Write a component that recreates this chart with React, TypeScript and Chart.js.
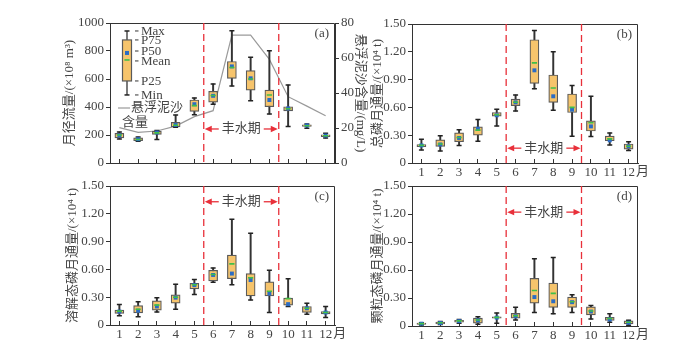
import React, { useEffect, useRef } from 'react';
import { Chart, registerables } from 'chart.js';

Chart.register(...registerables);

// ---------- data ----------
const months = ['1', '2', '3', '4', '5', '6', '7', '8', '9', '10', '11', '12'];

// (a) monthly runoff, 10^8 m3
const runoffMin = [172, 155, 168, 255, 345, 420, 550, 445, 350, 260, 248, 178];
const runoffP25 = [180, 160, 205, 258, 368, 435, 605, 520, 402, 372, 262, 188];
const runoffMedian = [197, 170, 218, 272, 420, 480, 690, 605, 450, 390, 268, 196];
const runoffMean = [200, 168, 215, 270, 410, 482, 682, 600, 486, 388, 266, 195];
const runoffP75 = [212, 180, 228, 290, 450, 512, 725, 660, 521, 402, 272, 202];
const runoffMax = [222, 185, 232, 343, 465, 565, 945, 755, 802, 557, 278, 212];
// suspended sediment, mg/L (right axis)
const sediment = [20.2, 17.5, 18.3, 21.1, 26.5, 29.9, 73.1, 73.1, 59.2, 37.9, 32.5, 27];

// (b) total phosphorus flux, 10^4 t
const tpMin = [0.14, 0.13, 0.19, 0.235, 0.40, 0.56, 0.80, 0.57, 0.29, 0.285, 0.195, 0.135];
const tpP25 = [0.175, 0.18, 0.23, 0.30, 0.505, 0.62, 0.86, 0.655, 0.545, 0.345, 0.24, 0.15];
const tpMedian = [0.19, 0.20, 0.27, 0.37, 0.515, 0.655, 1.00, 0.72, 0.575, 0.395, 0.245, 0.18];
const tpMean = [0.19, 0.205, 0.275, 0.355, 0.52, 0.655, 1.08, 0.81, 0.60, 0.435, 0.26, 0.18];
const tpP75 = [0.20, 0.25, 0.325, 0.39, 0.545, 0.69, 1.33, 0.95, 0.745, 0.455, 0.29, 0.205];
const tpMax = [0.255, 0.295, 0.36, 0.47, 0.58, 0.735, 1.43, 1.20, 0.835, 0.72, 0.325, 0.23];

// (c) dissolved phosphorus flux
const dpMin = [0.10, 0.09, 0.14, 0.17, 0.33, 0.46, 0.435, 0.27, 0.135, 0.20, 0.115, 0.08];
const dpP25 = [0.125, 0.13, 0.16, 0.235, 0.39, 0.475, 0.50, 0.315, 0.315, 0.215, 0.135, 0.12];
const dpMedian = [0.145, 0.155, 0.20, 0.295, 0.43, 0.54, 0.555, 0.485, 0.34, 0.225, 0.18, 0.135];
const dpMean = [0.15, 0.17, 0.215, 0.30, 0.435, 0.545, 0.66, 0.51, 0.365, 0.285, 0.18, 0.135];
const dpP75 = [0.16, 0.21, 0.26, 0.325, 0.45, 0.59, 0.755, 0.555, 0.465, 0.29, 0.20, 0.145];
const dpMax = [0.22, 0.25, 0.295, 0.44, 0.49, 0.615, 1.14, 0.99, 0.59, 0.50, 0.235, 0.20];

// (d) particulate phosphorus flux
const ppMin = [0.012, 0.015, 0.03, 0.02, 0.03, 0.065, 0.145, 0.13, 0.145, 0.075, 0.04, 0.008];
const ppP25 = [0.018, 0.022, 0.042, 0.03, 0.085, 0.085, 0.245, 0.20, 0.20, 0.12, 0.06, 0.022];
const ppMedian = [0.025, 0.032, 0.052, 0.06, 0.09, 0.105, 0.31, 0.265, 0.255, 0.155, 0.07, 0.035];
const ppMean = [0.025, 0.035, 0.055, 0.065, 0.092, 0.11, 0.38, 0.35, 0.26, 0.16, 0.08, 0.04];
const ppP75 = [0.032, 0.042, 0.062, 0.085, 0.097, 0.135, 0.51, 0.46, 0.31, 0.205, 0.092, 0.055];
const ppMax = [0.036, 0.048, 0.07, 0.10, 0.14, 0.20, 0.72, 0.735, 0.335, 0.22, 0.13, 0.062];

// tick labels
const runoffTicks = [0, 200, 400, 600, 800, 1000];
const sedimentTicks = [0, 10, 20, 30, 40, 50, 60, 70, 80];
const fluxTicks = [0, 0.3, 0.6, 0.9, 1.2, 1.5];

// flood season boundaries (between month 5/6 and 9/10, as category index)
const floodStart = 4.5;
const floodEnd = 8.5;
const floodText = '丰水期';

// legend sample box (panel a, in runoff units)
const legendSampleMin = 486;
const legendSampleP25 = 586;
const legendSampleMedian = 786;
const legendSampleMean = 736;
const legendSampleP75 = 879;
const legendSampleMax = 943;
const legendLabels = ['Max', 'P75', 'P50', 'Mean', 'P25', 'Min'];
const legendLabelValues = [943, 879, 800, 729, 586, 486];

// ---------- style ----------
const FONT = "'Liberation Serif', 'Noto Sans CJK SC', serif";
const TEXT = '#444';
const AXIS = '#333';
const BOX_FILL = '#F6C46C';
const BOX_EDGE = '#5a5a5a';
const WHISKER = '#333';
const BLUE = '#2B6CC4';
const GREEN = '#3FBF4A';
const RED = '#E8303A';

function boxDatasets(mn: number[], p25: number[], med: number[], mean: number[], p75: number[], mx: number[]) {
  return [
    {
      type: 'bar', data: mn.map((v, i) => [v, mx[i]]), backgroundColor: WHISKER,
      borderWidth: 0, barThickness: 1.3, grouped: false, order: 6,
    },
    {
      type: 'bar', data: p25.map((v, i) => [v, p75[i]]), backgroundColor: BOX_FILL,
      borderColor: BOX_EDGE, borderWidth: 1.2, borderSkipped: false, barThickness: 9, grouped: false, order: 5,
    },
    {
      type: 'line', data: mn, showLine: false, pointStyle: 'line', pointRadius: 2.5,
      pointBorderColor: '#222', pointBackgroundColor: '#222', pointBorderWidth: 1.5, order: 4,
    },
    {
      type: 'line', data: mx, showLine: false, pointStyle: 'line', pointRadius: 2.5,
      pointBorderColor: '#222', pointBackgroundColor: '#222', pointBorderWidth: 1.5, order: 4,
    },
    {
      type: 'line', data: med, showLine: false, pointStyle: 'rect', pointRadius: 2.8,
      pointBackgroundColor: BLUE, pointBorderColor: BLUE, pointBorderWidth: 0, order: 3,
    },
    {
      type: 'line', data: mean, showLine: false, pointStyle: 'line', pointRadius: 2.6,
      pointBorderColor: GREEN, pointBackgroundColor: GREEN, pointBorderWidth: 1.6, order: 2,
    },
  ];
}

const fmtInt = (v: number) => String(v);
const fmtFlux = (v: number) => (v === 0 ? '0' : v.toFixed(2));

function yScale(ticksArr: number[], fmt: (v: number) => string, title: string, width: number, position = 'left') {
  return {
    type: 'linear', position,
    min: ticksArr[0], max: ticksArr[ticksArr.length - 1],
    afterBuildTicks: (s: any) => { s.ticks = ticksArr.map((v) => ({ value: v })); },
    afterFit: (s: any) => { s.width = width; },
    grid: { display: true, drawOnChartArea: false, drawTicks: true, tickLength: 4, color: AXIS, lineWidth: 1 },
    border: { display: true, color: AXIS, width: 1 },
    ticks: { font: { family: FONT, size: 13 }, color: TEXT, padding: 2, callback: (v: any) => fmt(Number(v)) },
    title: { display: true, text: title, font: { family: FONT, size: 13 }, color: TEXT, padding: { top: 4, bottom: 4 } },
  };
}

function xScale(height: number, showLabels: boolean) {
  return {
    type: 'category', offset: true,
    afterFit: (s: any) => { s.height = height; },
    grid: { display: true, drawOnChartArea: false, offset: false, drawTicks: true, tickLength: -4, color: AXIS, lineWidth: 1 },
    border: { display: true, color: AXIS, width: 1 },
    ticks: { display: showLabels, font: { family: FONT, size: 13 }, color: TEXT, padding: 6, maxRotation: 0, autoSkip: false },
  };
}

function arrow(ctx: CanvasRenderingContext2D, x0: number, x1: number, y: number) {
  // line from x0 to x1 with head at x1
  const dir = x1 > x0 ? 1 : -1;
  ctx.beginPath();
  ctx.moveTo(x0, y);
  ctx.lineTo(x1 - dir * 5, y);
  ctx.stroke();
  ctx.beginPath();
  ctx.moveTo(x1, y);
  ctx.lineTo(x1 - dir * 7, y - 3.2);
  ctx.lineTo(x1 - dir * 7, y + 3.2);
  ctx.closePath();
  ctx.fill();
}

function decorPlugin(o: { label: string; floodY: number; unit: boolean; legend: boolean }) {
  return {
    id: 'decor',
    afterDatasetsDraw(chart: any) {
      const { ctx, chartArea: ca, scales } = chart;
      const x = scales.x;
      const y = scales.y;
      ctx.save();
      // frame: top and right
      ctx.strokeStyle = AXIS;
      ctx.lineWidth = 1;
      ctx.setLineDash([]);
      const t = Math.round(ca.top) + 0.5;
      const r = Math.round(ca.right) - 0.5;
      ctx.beginPath();
      ctx.moveTo(ca.left, t);
      ctx.lineTo(r, t);
      ctx.lineTo(r, ca.bottom);
      ctx.stroke();

      // flood season dashed lines
      const xs = x.getPixelForValue(floodStart);
      const xe = x.getPixelForValue(floodEnd);
      ctx.strokeStyle = RED;
      ctx.lineWidth = 1.3;
      ctx.setLineDash([7, 4]);
      [xs, xe].forEach((px) => {
        ctx.beginPath();
        ctx.moveTo(px, ca.top);
        ctx.lineTo(px, ca.bottom);
        ctx.stroke();
      });
      ctx.setLineDash([]);

      // flood label with arrows
      const yy = y.getPixelForValue(o.floodY);
      ctx.font = `13px ${FONT}`;
      const tw = ctx.measureText(floodText).width;
      const xm = (xs + xe) / 2;
      ctx.fillStyle = TEXT;
      ctx.textAlign = 'center';
      ctx.textBaseline = 'middle';
      ctx.fillText(floodText, xm, yy);
      ctx.strokeStyle = RED;
      ctx.fillStyle = RED;
      ctx.lineWidth = 1.3;
      arrow(ctx, xm - tw / 2 - 3, xs + 1, yy);
      arrow(ctx, xm + tw / 2 + 3, xe - 1, yy);

      // panel label
      ctx.fillStyle = TEXT;
      ctx.font = `13px ${FONT}`;
      ctx.textAlign = 'right';
      ctx.textBaseline = 'middle';
      ctx.fillText(o.label, ca.right - 6, ca.top + 11);

      // month unit
      if (o.unit) {
        ctx.textAlign = 'center';
        ctx.textBaseline = 'top';
        ctx.fillText('月', x.getPixelForValue(months.length - 1) + 14, ca.bottom + 2);
      }

      // legend
      if (o.legend) {
        const cx = ca.left + 17;
        ctx.strokeStyle = WHISKER;
        ctx.lineWidth = 1.3;
        ctx.beginPath();
        ctx.moveTo(cx, y.getPixelForValue(legendSampleMin));
        ctx.lineTo(cx, y.getPixelForValue(legendSampleMax));
        ctx.stroke();
        ctx.strokeStyle = '#222';
        ctx.lineWidth = 1.5;
        [legendSampleMin, legendSampleMax].forEach((v) => {
          const py = y.getPixelForValue(v);
          ctx.beginPath();
          ctx.moveTo(cx - 2.5, py);
          ctx.lineTo(cx + 2.5, py);
          ctx.stroke();
        });
        const bt = y.getPixelForValue(legendSampleP75);
        const bb = y.getPixelForValue(legendSampleP25);
        ctx.fillStyle = BOX_FILL;
        ctx.fillRect(cx - 4.5, bt, 9, bb - bt);
        ctx.strokeStyle = BOX_EDGE;
        ctx.lineWidth = 1.2;
        ctx.strokeRect(cx - 4.5, bt, 9, bb - bt);
        const pm = y.getPixelForValue(legendSampleMedian);
        ctx.fillStyle = BLUE;
        ctx.fillRect(cx - 2, pm - 2, 4, 4);
        const pmean = y.getPixelForValue(legendSampleMean);
        ctx.strokeStyle = GREEN;
        ctx.lineWidth = 1.6;
        ctx.beginPath();
        ctx.moveTo(cx - 2.6, pmean);
        ctx.lineTo(cx + 2.6, pmean);
        ctx.stroke();

        ctx.font = `13px ${FONT}`;
        ctx.textAlign = 'left';
        ctx.textBaseline = 'middle';
        legendLabels.forEach((lab, i) => {
          const py = y.getPixelForValue(legendLabelValues[i]);
          ctx.strokeStyle = '#333';
          ctx.lineWidth = 1;
          ctx.beginPath();
          ctx.moveTo(cx + 8, py);
          ctx.lineTo(cx + 11.5, py);
          ctx.stroke();
          ctx.fillStyle = TEXT;
          ctx.fillText(lab, cx + 14, py + 0.5);
        });

        // sediment legend
        const ly = ca.top + 85;
        ctx.strokeStyle = '#999';
        ctx.lineWidth = 1.2;
        ctx.beginPath();
        ctx.moveTo(ca.left + 8, ly);
        ctx.lineTo(ca.left + 20, ly);
        ctx.stroke();
        ctx.fillStyle = TEXT;
        ctx.fillText('悬浮泥沙', ca.left + 21, ly);
        ctx.fillText('含量', ca.left + 12, ly + 15);
      }
      ctx.restore();
    },
  };
}

function baseOptions(padding: any, scales: any) {
  return {
    responsive: false,
    animation: false,
    devicePixelRatio: 1,
    events: [],
    layout: { padding },
    plugins: { legend: { display: false }, tooltip: { enabled: false } },
    scales,
  };
}

const panels = [
  {
    key: 'a', left: 0, top: 0, w: 380, h: 176,
    make: () => ({
      type: 'bar',
      data: {
        labels: months,
        datasets: [
          {
            type: 'line', data: sediment, yAxisID: 'y1', borderColor: '#9a9a9a', borderWidth: 1.2,
            pointRadius: 0, tension: 0, fill: false, order: 7,
          },
          ...boxDatasets(runoffMin, runoffP25, runoffMedian, runoffMean, runoffP75, runoffMax),
        ],
      },
      options: baseOptions({ left: 58, top: 23, right: 8, bottom: 0 }, {
        x: xScale(13, false),
        y: yScale(runoffTicks, fmtInt, '月径流量/(×10⁸ m³)', 52, 'left'),
        y1: yScale(sedimentTicks, fmtInt, '悬浮泥沙含量/(mg/L)', 37, 'right'),
      }),
      plugins: [decorPlugin({ label: '(a)', floodY: 243, unit: false, legend: true })],
    }),
  },
  {
    key: 'b', left: 345, top: 0, w: 344, h: 180,
    make: () => ({
      type: 'bar',
      data: { labels: months, datasets: boxDatasets(tpMin, tpP25, tpMedian, tpMean, tpP75, tpMax) },
      options: baseOptions({ left: 21, top: 24, right: 51, bottom: 0 }, {
        x: xScale(17, true),
        y: yScale(fluxTicks, fmtFlux, '总磷月通量/(×10⁴ t)', 46, 'left'),
      }),
      plugins: [decorPlugin({ label: '(b)', floodY: 0.16, unit: true, legend: false })],
    }),
  },
  {
    key: 'c', left: 0, top: 176, w: 345, h: 176,
    make: () => ({
      type: 'bar',
      data: { labels: months, datasets: boxDatasets(dpMin, dpP25, dpMedian, dpMean, dpP75, dpMax) },
      options: baseOptions({ left: 61, top: 10, right: 10, bottom: 0 }, {
        x: xScale(27, true),
        y: yScale(fluxTicks, fmtFlux, '溶解态磷月通量/(×10⁴ t)', 49, 'left'),
      }),
      plugins: [decorPlugin({ label: '(c)', floodY: 1.33, unit: true, legend: false })],
    }),
  },
  {
    key: 'd', left: 345, top: 176, w: 344, h: 176,
    make: () => ({
      type: 'bar',
      data: { labels: months, datasets: boxDatasets(ppMin, ppP25, ppMedian, ppMean, ppP75, ppMax) },
      options: baseOptions({ left: 21, top: 10, right: 51, bottom: 0 }, {
        x: xScale(26, true),
        y: yScale(fluxTicks, fmtFlux, '颗粒态磷月通量/(×10⁴ t)', 46, 'left'),
      }),
      plugins: [decorPlugin({ label: '(d)', floodY: 1.22, unit: true, legend: false })],
    }),
  },
];

function Panel({ p }: { p: any }) {
  const ref = useRef<HTMLCanvasElement | null>(null);
  useEffect(() => {
    if (!ref.current) return;
    const chart = new Chart(ref.current, p.make() as any);
    return () => chart.destroy();
  }, []);
  return (
    <canvas
      ref={ref}
      width={p.w}
      height={p.h}
      style={{ position: 'absolute', left: p.left, top: p.top, width: p.w, height: p.h }}
    />
  );
}

export default function App() {
  return (
    <div style={{ position: 'fixed', left: 0, top: 0, width: 689, height: 352, background: '#fff', overflow: 'hidden' }}>
      {panels.map((p) => (
        <Panel key={p.key} p={p} />
      ))}
    </div>
  );
}
